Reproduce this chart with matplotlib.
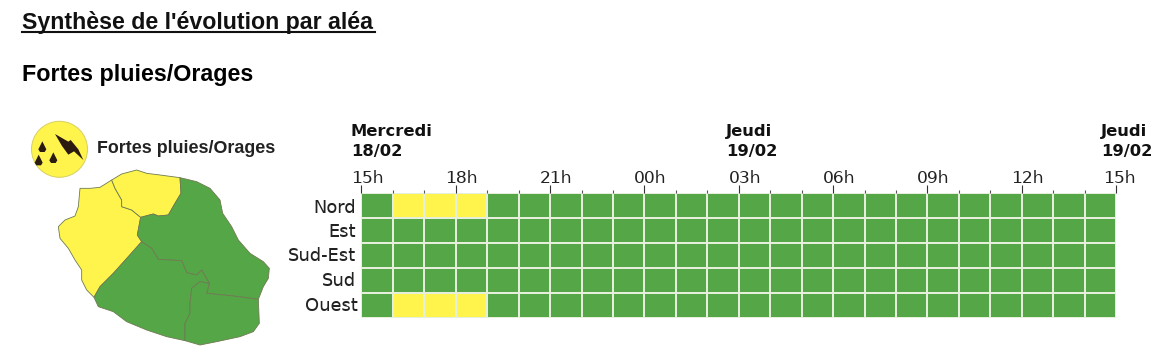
import numpy as np
import matplotlib
matplotlib.use('Agg')
import matplotlib.pyplot as plt
from matplotlib.patches import Polygon, Circle
from matplotlib.transforms import ScaledTranslation

plt.rcParams['text.hinting'] = 'no_autohint'

W, H = 1168, 358

zones = ['Nord', 'Est', 'Sud-Est', 'Sud', 'Ouest']
hour_labels = ['15h', '18h', '21h', '00h', '03h', '06h', '09h', '12h', '15h']
days = ['Mercredi\n18/02', 'Jeudi\n19/02', 'Jeudi\n19/02']
day_hours = [0, 12, 24]

# 0 = vert, 1 = jaune, one row per zone, one column per hour
nord = [0, 1, 1, 1] + [0] * 20
est = [0] * 24
sud_est = [0] * 24
sud = [0] * 24
ouest = [0, 1, 1, 1] + [0] * 20

GREEN = '#55a647'
YELLOW = '#fef44c'

# Map outlines (3x zoom coordinates)
map_ouest = [(335, 210), (345, 235), (365, 270), (365, 290), (395, 300), (422, 322), (412, 375), (425, 395),
             (385, 440), (340, 490), (300, 530), (282, 562), (260, 540), (245, 510), (245, 480), (225, 450),
             (205, 415), (180, 385), (175, 350), (195, 330), (225, 318), (235, 290), (240, 235), (270, 235), (300, 232)]
map_nord = [(335, 210), (365, 192), (410, 180), (440, 190), (480, 195), (540, 203), (543, 250), (525, 280),
            (505, 315), (475, 318), (460, 312), (422, 322), (395, 300), (365, 290), (365, 270), (345, 235)]
map_est = [(540, 203), (590, 215), (630, 235), (660, 270), (668, 310), (695, 350), (715, 390), (750, 430),
           (790, 455), (808, 475), (805, 505), (790, 530), (775, 568), (700, 558), (620, 550), (628, 520),
           (605, 480), (590, 495), (560, 488), (545, 452), (475, 448), (455, 415), (425, 395), (412, 375),
           (422, 322), (460, 312), (475, 318), (505, 315), (525, 280), (543, 250)]
map_so = [(425, 395), (455, 415), (475, 448), (545, 452), (560, 488), (590, 495), (605, 480), (628, 520),
          (600, 515), (575, 535), (570, 580), (570, 610), (555, 640), (555, 692), (500, 680), (440, 660),
          (380, 635), (340, 605), (295, 590), (282, 562), (300, 530), (340, 490), (385, 440)]
map_se = [(628, 520), (620, 550), (700, 558), (775, 568), (778, 640), (760, 665), (720, 680), (650, 695),
          (600, 705), (555, 692), (555, 640), (570, 610), (570, 580), (575, 535), (600, 515)]
bolt = [(165, 72), (205, 95), (212, 90), (235, 118), (250, 150), (222, 124), (205, 134), (186, 108)]
drops = [(127, 112), (160, 145), (116, 152)]

fig = plt.figure(figsize=(W / 100, H / 100), dpi=100)

# Full-figure axes in pixels for the texts and the map
bg = fig.add_axes([0, 0, 1, 1])
bg.set_xlim(0, W)
bg.set_ylim(H, 0)
bg.axis('off')

sans = 'Liberation Sans'
bg.text(22, 29, "Synthèse de l'évolution par aléa", family=sans, weight='bold', fontsize=16.7, color='#111111')
bg.plot([22, 375], [32, 32], color='#111111', lw=1.5)
bg.text(22, 81, 'Fortes pluies/Orages', family=sans, weight='bold', fontsize=16.75, color='black')
bg.text(97, 153, 'Fortes pluies/Orages', family=sans, weight='bold', fontsize=12.9, color='#222222')


def from_zoom(points):
    return [(x / 3, 110 + y / 3) for x, y in points]


for outline, colour in [(map_ouest, YELLOW), (map_nord, YELLOW), (map_est, GREEN), (map_so, GREEN), (map_se, GREEN)]:
    bg.add_patch(Polygon(from_zoom(outline), closed=True, facecolor=colour, edgecolor='#6f7a52', lw=0.6))

# Icon
bg.add_patch(Circle((59.5, 149.3), 28, facecolor=YELLOW, edgecolor='#d8d060', lw=0.7))
bg.add_patch(Polygon(from_zoom(bolt), closed=True, facecolor='#2a1a10', edgecolor='none'))
for dx, dy in drops:
    drop = [(dx, dy - 18), (dx + 6, dy - 6), (dx + 12, dy + 6), (dx + 7, dy + 14), (dx - 7, dy + 14), (dx - 12, dy + 6), (dx - 6, dy - 6)]
    bg.add_patch(Polygon(from_zoom(drop), closed=True, facecolor='#2a1a10', edgecolor='none'))

# Timeline grid
x0, x1, y0, y1 = 361.5, 1116, 193, 317.5
ax = fig.add_axes([x0 / W, 1 - y1 / H, (x1 - x0) / W, (y1 - y0) / H])
cells = np.array([nord, est, sud_est, sud, ouest])
cmap = matplotlib.colors.ListedColormap([GREEN, YELLOW])
ax.pcolormesh(cells, cmap=cmap, vmin=0, vmax=1, edgecolors='#e6efdc', linewidth=1.4)
ax.set_xlim(0, 24)
ax.set_ylim(5, 0)
for side in ax.spines.values():
    side.set_visible(False)

ax.xaxis.tick_top()
ax.set_xticks(np.arange(0, 25, 3))
ax.set_xticklabels(hour_labels, fontsize=12.3, color='#222222')
ax.set_xticks(np.arange(0, 25), minor=True)
ax.tick_params(axis='x', which='major', length=6, width=0.8, color='#333333', pad=1.2)
ax.tick_params(axis='x', which='minor', length=2.2, width=0.8, color='#555555')
ax.set_yticks(np.arange(5) + 0.5)
ax.set_yticklabels(zones, fontsize=12.9, color='#222222')
ax.tick_params(axis='y', length=0, pad=4)

# Labels sit off their ticks in the original
px = fig.dpi_scale_trans
for i, label in enumerate(ax.get_xticklabels()):
    shift = 3 if i == len(hour_labels) - 1 else 6
    label.set_va('baseline')
    label.set_transform(label.get_transform() + ScaledTranslation(shift / 100, 0, px))
label_dx = [0, 0, 0, 0, 2]
label_dy = [-1, 0, 1, 1, 1]
for label, dx, dy in zip(ax.get_yticklabels(), label_dx, label_dy):
    label.set_transform(label.get_transform() + ScaledTranslation(dx / 100, dy / 100, px))

day_offset = [-10.5, -13, -15]
for hour, day, off in zip(day_hours, days, day_offset):
    bg.text(x0 + hour * (x1 - x0) / 24 + off, 159, day, weight='bold', fontsize=11.8, color='#111111',
            va='bottom', linespacing=1.4)

fig.savefig('out.png', dpi=100)
